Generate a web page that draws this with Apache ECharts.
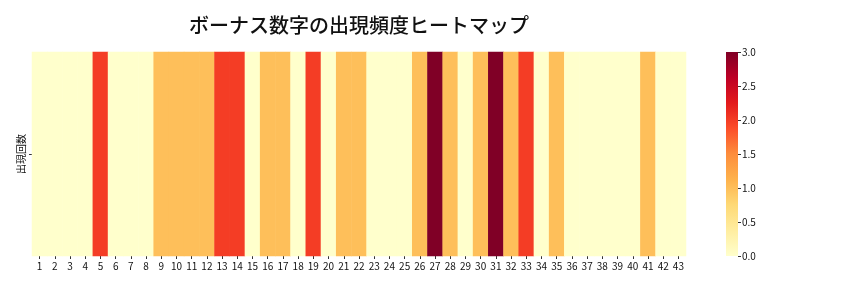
<!DOCTYPE html>
<html><head><meta charset="utf-8">
<script src="https://cdn.jsdelivr.net/npm/echarts@6/dist/echarts.min.js"></script>
<style>html,body{margin:0;padding:0;background:#fff}#c{width:864px;height:288px}</style>
</head><body><div id="c"></div>
<script>
const categories = Array.from({length:43},(_,i)=>String(i+1));
const rowLabels = ['出現回数'];
const counts = [0,0,0,0,2,0,0,0,1,1,1,1,2,2,0,1,1,0,2,0,1,1,0,0,0,1,3,1,0,1,3,1,2,0,1,0,0,0,0,0,1,0,0];
const colorbarTicks = [0,0.5,1,1.5,2,2.5,3];
const titleText = 'ボーナス数字の出現頻度ヒートマップ';
const palette = ['#ffffcc','#ffeda0','#fed976','#feb24c','#fd8d3c','#fc4e2a','#e31a1c','#bd0026','#800026'];

const data = counts.map((v,i)=>[i,0,v]);
const font = '"Noto Sans CJK JP", "Noto Sans", sans-serif';
const vmax = colorbarTicks[colorbarTicks.length-1];
const chart = echarts.init(document.getElementById('c'), null, {renderer:'canvas'});
chart.setOption({
  animation:false,
  backgroundColor:'#fff',
  title:{text:titleText,left:354,top:10,textAlign:'center',
    textStyle:{fontFamily:font,fontSize:20,fontWeight:500,color:'#111'}},
  grid:[
    {left:32,top:52,width:654,height:204},
    {left:726,top:52,width:12,height:204}
  ],
  xAxis:[
    {type:'category',data:categories,gridIndex:0,
      axisLine:{show:false},
      axisTick:{show:true,alignWithLabel:true,length:3,lineStyle:{color:'#333'}},
      axisLabel:{fontFamily:font,fontSize:10,color:'#111',margin:5,interval:0},
      splitLine:{show:false}},
    {type:'category',data:['cb'],gridIndex:1,show:false}
  ],
  yAxis:[
    {type:'category',data:rowLabels,gridIndex:0,
      axisLine:{show:false},
      axisTick:{show:true,alignWithLabel:true,length:3,lineStyle:{color:'#333'}},
      axisLabel:{fontFamily:font,fontSize:10,color:'#111',rotate:90,margin:6},
      splitLine:{show:false}},
    {type:'value',gridIndex:1,min:0,max:vmax,interval:0.5,position:'right',
      axisLine:{show:false},
      axisTick:{show:true,length:3,lineStyle:{color:'#333'}},
      axisLabel:{fontFamily:font,fontSize:10,color:'#111',margin:4,formatter:v=>v.toFixed(1)},
      splitLine:{show:false}}
  ],
  visualMap:{type:'continuous',min:0,max:vmax,show:false,
    inRange:{color:palette},seriesIndex:0},
  series:[
    {type:'heatmap',xAxisIndex:0,yAxisIndex:0,data:data,
      itemStyle:{borderWidth:0},emphasis:{disabled:true}},
    {type:'bar',xAxisIndex:1,yAxisIndex:1,data:[vmax],barWidth:'100%',silent:true,
      itemStyle:{color:new echarts.graphic.LinearGradient(0,1,0,0,
        palette.map((c,i)=>({offset:i/(palette.length-1),color:c})))}}
  ]
});
</script></body></html>
